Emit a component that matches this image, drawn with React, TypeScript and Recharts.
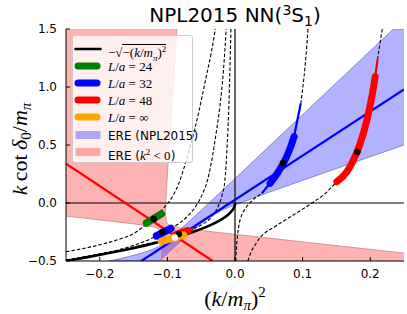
import React from 'react';
import { ComposedChart, Line, Area, Scatter, XAxis, YAxis, ReferenceLine } from 'recharts';

type P = [number, number];
type R = [number, number, number];

const xTicks = [-0.2, -0.1, 0, 0.1, 0.2];
const yTicks = [-0.5, 0, 0.5, 1, 1.5];

// ERE (k^2<0) band, upper-left part: [k2, lower edge]; it reaches the top of the frame
const pinkUpper: P[] = [
  [-0.25, -0.113], [-0.2, -0.146], [-0.15, -0.18], [-0.13, -0.196], [-0.12, -0.207], [-0.115, -0.217],
  [-0.11, -0.245], [-0.109, -0.266], [-0.1086, -0.286], [-0.1084, -0.326], [-0.1056, -0.205],
  [-0.1028, -0.084], [-0.1025, -0.013], [-0.102, 0.049], [-0.101, 0.153], [-0.1, 0.249], [-0.098, 0.433],
  [-0.095, 0.701], [-0.09, 1.141], [-0.086, 1.491], [-0.0858, 1.5],
];
// lower-right part: [k2, upper edge]; it reaches the bottom of the frame
const pinkLower: P[] = [
  [-0.1096, -0.5], [-0.109, -0.437], [-0.1086, -0.383], [-0.1084, -0.326], [-0.1056, -0.205],
  [-0.1028, -0.084], [-0.1025, -0.129], [-0.102, -0.148], [-0.101, -0.166], [-0.1, -0.175],
  [-0.098, -0.186], [-0.095, -0.195], [-0.09, -0.203], [-0.086, -0.208], [-0.08, -0.214],
  [-0.05, -0.237], [0, -0.27], [0.1, -0.335], [0.25, -0.432],
];
const pinkEdgeLeft: P[] = [
  [-0.25, -0.113], [-0.2, -0.146], [-0.15, -0.18], [-0.13, -0.196], [-0.12, -0.207], [-0.115, -0.217],
  [-0.11, -0.245], [-0.109, -0.266], [-0.1086, -0.286], [-0.1084, -0.326], [-0.1086, -0.383],
  [-0.109, -0.437], [-0.1096, -0.5],
];
const pinkEdgeRight: P[] = [
  [0.25, -0.432], [0.1, -0.335], [0, -0.27], [-0.05, -0.237], [-0.08, -0.214], [-0.086, -0.208],
  [-0.09, -0.203], [-0.095, -0.195], [-0.098, -0.186], [-0.1, -0.175], [-0.101, -0.166], [-0.102, -0.148],
  [-0.1025, -0.129], [-0.1028, -0.084], [-0.1025, -0.013], [-0.102, 0.049], [-0.101, 0.153],
  [-0.1, 0.249], [-0.098, 0.433], [-0.095, 0.701], [-0.09, 1.141], [-0.086, 1.491], [-0.0858, 1.5],
];

// ERE (NPL2015) band: [k2, low, high]
const blueBand: R[] = [
  [-0.186, -0.5, -0.5], [-0.18, -0.5, -0.493], [-0.16, -0.5, -0.465], [-0.14, -0.5, -0.435],
  [-0.13, -0.5, -0.417], [-0.12, -0.5, -0.395], [-0.112, -0.5, -0.371], [-0.11, -0.49, -0.364],
  [-0.1, -0.436, -0.323], [-0.09, -0.382, -0.275], [-0.08, -0.328, -0.224], [-0.07, -0.276, -0.171],
  [-0.06, -0.225, -0.117], [-0.05, -0.176, -0.063], [-0.04, -0.132, -0.009], [-0.03, -0.095, 0.046],
  [-0.02, -0.065, 0.101], [-0.01, -0.039, 0.156], [0, -0.016, 0.21], [0.05, 0.092, 0.486],
  [0.1, 0.195, 0.761], [0.15, 0.297, 1.036], [0.2, 0.399, 1.311], [0.2343, 0.468, 1.5], [0.25, 0.5, 1.5],
];

const ereLine: P[] = [[-0.1386, -0.5], [0.25, 0.98]];
const ereNegLine: P[] = [[-0.25, 0.34], [-0.033, -0.5]];

const boundCurve: P[] = [
  [-0.25, -0.5], [-0.22, -0.469], [-0.19, -0.436], [-0.16, -0.4], [-0.13, -0.361], [-0.1, -0.316],
  [-0.08, -0.283], [-0.06, -0.245], [-0.045, -0.212], [-0.03, -0.173], [-0.02, -0.141], [-0.012, -0.11],
  [-0.006, -0.077], [-0.003, -0.055], [-0.001, -0.032], [-0.0002, -0.014], [0, 0],
];

// finite volume curves (dashed)
const fv24: P[] = [
  [-0.25, -0.42], [-0.2, -0.36], [-0.17, -0.31], [-0.15, -0.265], [-0.135, -0.2], [-0.12, -0.13],
  [-0.105, -0.04], [-0.092, 0.06], [-0.083, 0.17], [-0.073, 0.35], [-0.063, 0.56], [-0.053, 0.8],
  [-0.044, 1.05], [-0.035, 1.3], [-0.029, 1.5],
];
const fv32: P[] = [
  [-0.25, -0.49], [-0.21, -0.45], [-0.17, -0.4], [-0.14, -0.345], [-0.12, -0.295], [-0.107, -0.255],
  [-0.093, -0.212], [-0.08, -0.165], [-0.068, -0.1], [-0.057, -0.02], [-0.048, 0.08], [-0.041, 0.19],
  [-0.034, 0.38], [-0.028, 0.6], [-0.022, 0.85], [-0.017, 1.15], [-0.013, 1.5],
];
const fv48: P[] = [
  [-0.25, -0.497], [-0.15, -0.38], [-0.1, -0.305], [-0.083, -0.267], [-0.067, -0.233], [-0.05, -0.19],
  [-0.035, -0.12], [-0.025, -0.03], [-0.019, 0.07], [-0.015, 0.19], [-0.012, 0.45], [-0.009, 0.85],
  [-0.006, 1.5],
];
const fv32Pos: P[] = [
  [0.001, -0.5], [0.002, -0.4], [0.005, -0.22], [0.009, -0.12], [0.015, -0.05], [0.022, 0], [0.03, 0.045],
  [0.0395, 0.083], [0.0519, 0.17], [0.0642, 0.27], [0.0741, 0.371], [0.0815, 0.471], [0.0874, 0.572],
  [0.0923, 0.716], [0.0973, 0.859], [0.1, 0.98], [0.104, 1.2], [0.108, 1.5],
];
const fv48Pos: P[] = [
  [0.019, -0.5], [0.024, -0.42], [0.03, -0.36], [0.037, -0.3], [0.06, -0.2], [0.09, -0.09], [0.114, 0],
  [0.135, 0.09], [0.1507, 0.184], [0.1655, 0.27], [0.1753, 0.371], [0.1852, 0.514], [0.1951, 0.715],
  [0.2025, 0.916], [0.2074, 1.088], [0.2108, 1.233], [0.214, 1.36], [0.218, 1.5],
];

// thin and thick pieces of the curves (fit ranges)
const thin32: P[] = [[0.0395, 0.083], [0.0519, 0.17]];
const thin32b: P[] = [[0.0874, 0.572], [0.0923, 0.716], [0.0973, 0.859]];
const thick32: P[] = [[0.0519, 0.17], [0.0642, 0.27], [0.0741, 0.371], [0.0815, 0.471], [0.0874, 0.572]];
const thin48: P[] = [[0.2074, 1.088], [0.2108, 1.233]];
const thick48: P[] = [
  [0.1507, 0.184], [0.1655, 0.27], [0.1753, 0.371], [0.1852, 0.514], [0.1951, 0.715], [0.2025, 0.916],
  [0.2074, 1.088],
];
const seg24: P[] = [[-0.131, -0.172], [-0.109, -0.094]];
const seg32: P[] = [[-0.116, -0.284], [-0.095, -0.22]];
const seg48: P[] = [[-0.087, -0.273], [-0.07, -0.24]];
const seg48thin: P[] = [[-0.07, -0.24], [-0.062, -0.222]];
const segInf: P[] = [[-0.109, -0.33], [-0.1, -0.316], [-0.09, -0.3], [-0.076, -0.276]];

const centers: P[] = [[-0.12, -0.138], [-0.107, -0.25], [-0.083, -0.267], [0.071, 0.345], [0.181, 0.44]];
const centerInf: P[] = [[-0.089, -0.297]];

const pts = (a: P[]) => a.map(([x, y]) => ({ x, y }));
const upRows = pinkUpper.map(([x, lo]) => ({ x, r: [lo, 1.5] }));
const lowRows = pinkLower.map(([x, hi]) => ({ x, r: [-0.5, hi] }));
const bandRows = blueBand.map(([x, lo, hi]) => ({ x, r: [lo, hi] }));

const fmt = (v: number) => v.toFixed(1).replace('-', '\u2212');
const serif = '"Liberation Serif", "DejaVu Serif", serif';
const sans = '"DejaVu Sans", sans-serif';

const LegendBox = () => {
  const sub = { fontSize: 9 };
  const rows: { kind: string; color: string; w?: number; label: React.ReactNode }[] = [
    {
      kind: 'line', color: '#000', w: 2.5,
      label: (
        <span style={{ fontFamily: serif, fontSize: 13 }}>
          {'\u2212\u221A'}
          <span style={{ borderTop: '1px solid #000' }}>
            {'\u2212('}<i>k</i>/<i>m</i><sub style={sub}><i>π</i></sub>)<sup style={sub}>2</sup>
          </span>
        </span>
      ),
    },
    { kind: 'line', color: 'green', w: 7, label: <span style={{ fontFamily: serif, fontSize: 13 }}><i>L</i>/<i>a</i>{' = 24'}</span> },
    { kind: 'line', color: 'blue', w: 7, label: <span style={{ fontFamily: serif, fontSize: 13 }}><i>L</i>/<i>a</i>{' = 32'}</span> },
    { kind: 'line', color: 'red', w: 7, label: <span style={{ fontFamily: serif, fontSize: 13 }}><i>L</i>/<i>a</i>{' = 48'}</span> },
    { kind: 'line', color: 'orange', w: 7, label: <span style={{ fontFamily: serif, fontSize: 13 }}><i>L</i>/<i>a</i>{' = ∞'}</span> },
    { kind: 'patch', color: 'rgba(0,0,255,0.3)', label: <span style={{ fontFamily: sans, fontSize: 12 }}>ERE (NPL2015)</span> },
    {
      kind: 'patch', color: 'rgba(255,0,0,0.3)',
      label: (
        <span style={{ fontFamily: sans, fontSize: 12 }}>
          ERE (<span style={{ fontFamily: serif, fontSize: 13 }}><i>k</i><sup style={sub}>2</sup>{' < 0'}</span>)
        </span>
      ),
    },
  ];
  return (
    <div style={{ position: 'absolute', left: 72, top: 35, width: 121, height: 128, boxSizing: 'border-box', background: 'rgba(255,255,255,0.8)', border: '1px solid #cccccc', borderRadius: 3 }}>
      {rows.map((r, i) => {
        const cy = 13 + i * 17.1;
        return (
          <div key={i} style={{ position: 'absolute', left: 0, top: cy - 8, height: 16, width: 119 }}>
            <svg width={32} height={16} style={{ position: 'absolute', left: 0, top: 0 }}>
              {r.kind === 'line' ? (
                <line x1={r.w! > 3 ? 5 : 2.5} y1={8} x2={r.w! > 3 ? 24 : 27.5} y2={8} stroke={r.color} strokeWidth={r.w} strokeLinecap="round" />
              ) : (
                <rect x={2.5} y={4} width={25} height={8} fill={r.color} />
              )}
            </svg>
            <div style={{ position: 'absolute', left: 35, top: 0, lineHeight: '16px', whiteSpace: 'nowrap', color: '#000' }}>
              {r.label}
            </div>
          </div>
        );
      })}
    </div>
  );
};

export default function App() {
  return (
    <div style={{ position: 'absolute', left: 0, top: 0, width: 407, height: 314, background: '#fff' }}>
      <ComposedChart width={407} height={314} margin={{ top: 29, right: 3, bottom: 23, left: 6 }}>
        <XAxis
          dataKey="x" type="number" domain={[-0.25, 0.25]} ticks={xTicks} allowDataOverflow interval={0}
          height={30} tickSize={-4} tickMargin={12} tickFormatter={fmt}
          axisLine={{ stroke: '#000' }} tickLine={{ stroke: '#000' }}
          tick={{ fill: '#000', fontSize: 12, fontFamily: sans }}
        />
        <XAxis
          xAxisId="top" orientation="top" dataKey="x" type="number" domain={[-0.25, 0.25]} ticks={xTicks}
          allowDataOverflow interval={0} height={0} tickSize={-4} tickFormatter={() => ''}
          axisLine={{ stroke: '#000' }} tickLine={{ stroke: '#000' }}
        />
        <YAxis
          type="number" domain={[-0.5, 1.5]} ticks={yTicks} allowDataOverflow interval={0}
          width={60} tickSize={-4} tickMargin={13} tickFormatter={fmt}
          axisLine={{ stroke: '#000' }} tickLine={{ stroke: '#000' }}
          tick={{ fill: '#000', fontSize: 12, fontFamily: sans }}
        />
        <YAxis
          yAxisId="right" orientation="right" type="number" domain={[-0.5, 1.5]} ticks={yTicks}
          allowDataOverflow interval={0} width={0} tickSize={-4} tickFormatter={() => ''}
          axisLine={{ stroke: '#000' }} tickLine={{ stroke: '#000' }}
        />

        <Area data={upRows} dataKey="r" type="linear" fill="#ff0000" fillOpacity={0.3} stroke="none" isAnimationActive={false} />
        <Area data={lowRows} dataKey="r" type="linear" fill="#ff0000" fillOpacity={0.3} stroke="none" isAnimationActive={false} />
        <Line data={pts(pinkEdgeLeft)} dataKey="y" type="linear" stroke="#c98888" strokeWidth={0.8} dot={false} isAnimationActive={false} />
        <Line data={pts(pinkEdgeRight)} dataKey="y" type="linear" stroke="#c98888" strokeWidth={0.8} dot={false} isAnimationActive={false} />
        <Area data={bandRows} dataKey="r" type="linear" fill="#0000ff" fillOpacity={0.3} stroke="#7373c8" strokeWidth={0.8} isAnimationActive={false} />

        <ReferenceLine x={0} stroke="#000" strokeWidth={1.2} />
        <ReferenceLine y={0} stroke="#000" strokeWidth={1.2} />

        {[fv24, fv32, fv48, fv32Pos, fv48Pos].map((c, i) => (
          <Line key={i} data={pts(c)} dataKey="y" type="monotone" stroke="#000" strokeWidth={1.1} strokeDasharray="3.5 2" dot={false} isAnimationActive={false} />
        ))}

        <Line data={pts(boundCurve)} dataKey="y" type="monotone" stroke="#000" strokeWidth={2.6} dot={false} isAnimationActive={false} />
        <Line data={pts(ereNegLine)} dataKey="y" type="linear" stroke="#ff0000" strokeWidth={2.2} dot={false} isAnimationActive={false} />
        <Line data={pts(ereLine)} dataKey="y" type="linear" stroke="#0000ff" strokeWidth={2.2} dot={false} isAnimationActive={false} />

        <Line data={pts(thin32)} dataKey="y" type="linear" stroke="#0000ff" strokeWidth={2.2} dot={false} isAnimationActive={false} />
        <Line data={pts(thin32b)} dataKey="y" type="monotone" stroke="#0000ff" strokeWidth={2.2} dot={false} isAnimationActive={false} />
        <Line data={pts(thick32)} dataKey="y" type="monotone" stroke="#0000ff" strokeWidth={7} strokeLinecap="round" dot={false} isAnimationActive={false} />
        <Line data={pts(thin48)} dataKey="y" type="linear" stroke="#ff0000" strokeWidth={2.2} dot={false} isAnimationActive={false} />
        <Line data={pts(thick48)} dataKey="y" type="monotone" stroke="#ff0000" strokeWidth={7} strokeLinecap="round" dot={false} isAnimationActive={false} />

        <Line data={pts(seg24)} dataKey="y" type="linear" stroke="green" strokeWidth={7.5} strokeLinecap="round" dot={false} isAnimationActive={false} />
        <Line data={pts(seg32)} dataKey="y" type="linear" stroke="#0000ff" strokeWidth={7.5} strokeLinecap="round" dot={false} isAnimationActive={false} />
        <Line data={pts(seg48thin)} dataKey="y" type="linear" stroke="#ff0000" strokeWidth={2.2} dot={false} isAnimationActive={false} />
        <Line data={pts(seg48)} dataKey="y" type="linear" stroke="#ff0000" strokeWidth={7.5} strokeLinecap="round" dot={false} isAnimationActive={false} />
        <Line data={pts(segInf)} dataKey="y" type="monotone" stroke="orange" strokeWidth={7.5} strokeLinecap="round" dot={false} isAnimationActive={false} />

        <Scatter data={pts(centers)} dataKey="y" isAnimationActive={false}
          shape={(p: any) => <circle cx={p.cx} cy={p.cy} r={3.2} fill="#000" />} />
        <Scatter data={pts(centerInf)} dataKey="y" isAnimationActive={false}
          shape={(p: any) => <circle cx={p.cx} cy={p.cy} r={3.2} fill="#fff" />} />
      </ComposedChart>

      <svg width={407} height={314} style={{ position: 'absolute', left: 0, top: 0, pointerEvents: 'none' }}>
        <text x={235} y={22} textAnchor="middle" fontFamily={sans} fontSize={20} fill="#000">
          NPL2015 NN(<tspan fontSize={14} dy={-7}>3</tspan><tspan dy={7}>S</tspan><tspan fontSize={14} dy={4}>1</tspan><tspan dy={-4}>)</tspan>
        </text>
        <text x={235} y={306} textAnchor="middle" fontFamily={serif} fontSize={22} fill="#000">
          (<tspan fontStyle="italic">k</tspan>/<tspan fontStyle="italic">m</tspan><tspan fontStyle="italic" fontSize={15} dy={4}>π</tspan><tspan dy={-4}>)</tspan><tspan fontSize={15} dy={-9}>2</tspan>
        </text>
        <text x={27} y={149} transform="rotate(-90 27 149)" textAnchor="middle" fontFamily={serif} fontSize={22} fill="#000">
          <tspan fontStyle="italic">k</tspan>{'\u2009'}cot{'\u2009'}<tspan fontStyle="italic">δ</tspan><tspan fontSize={15} dy={4}>0</tspan><tspan dy={-4}>/</tspan><tspan fontStyle="italic">m</tspan><tspan fontStyle="italic" fontSize={15} dy={4}>π</tspan>
        </text>
      </svg>
      <LegendBox />
    </div>
  );
}
